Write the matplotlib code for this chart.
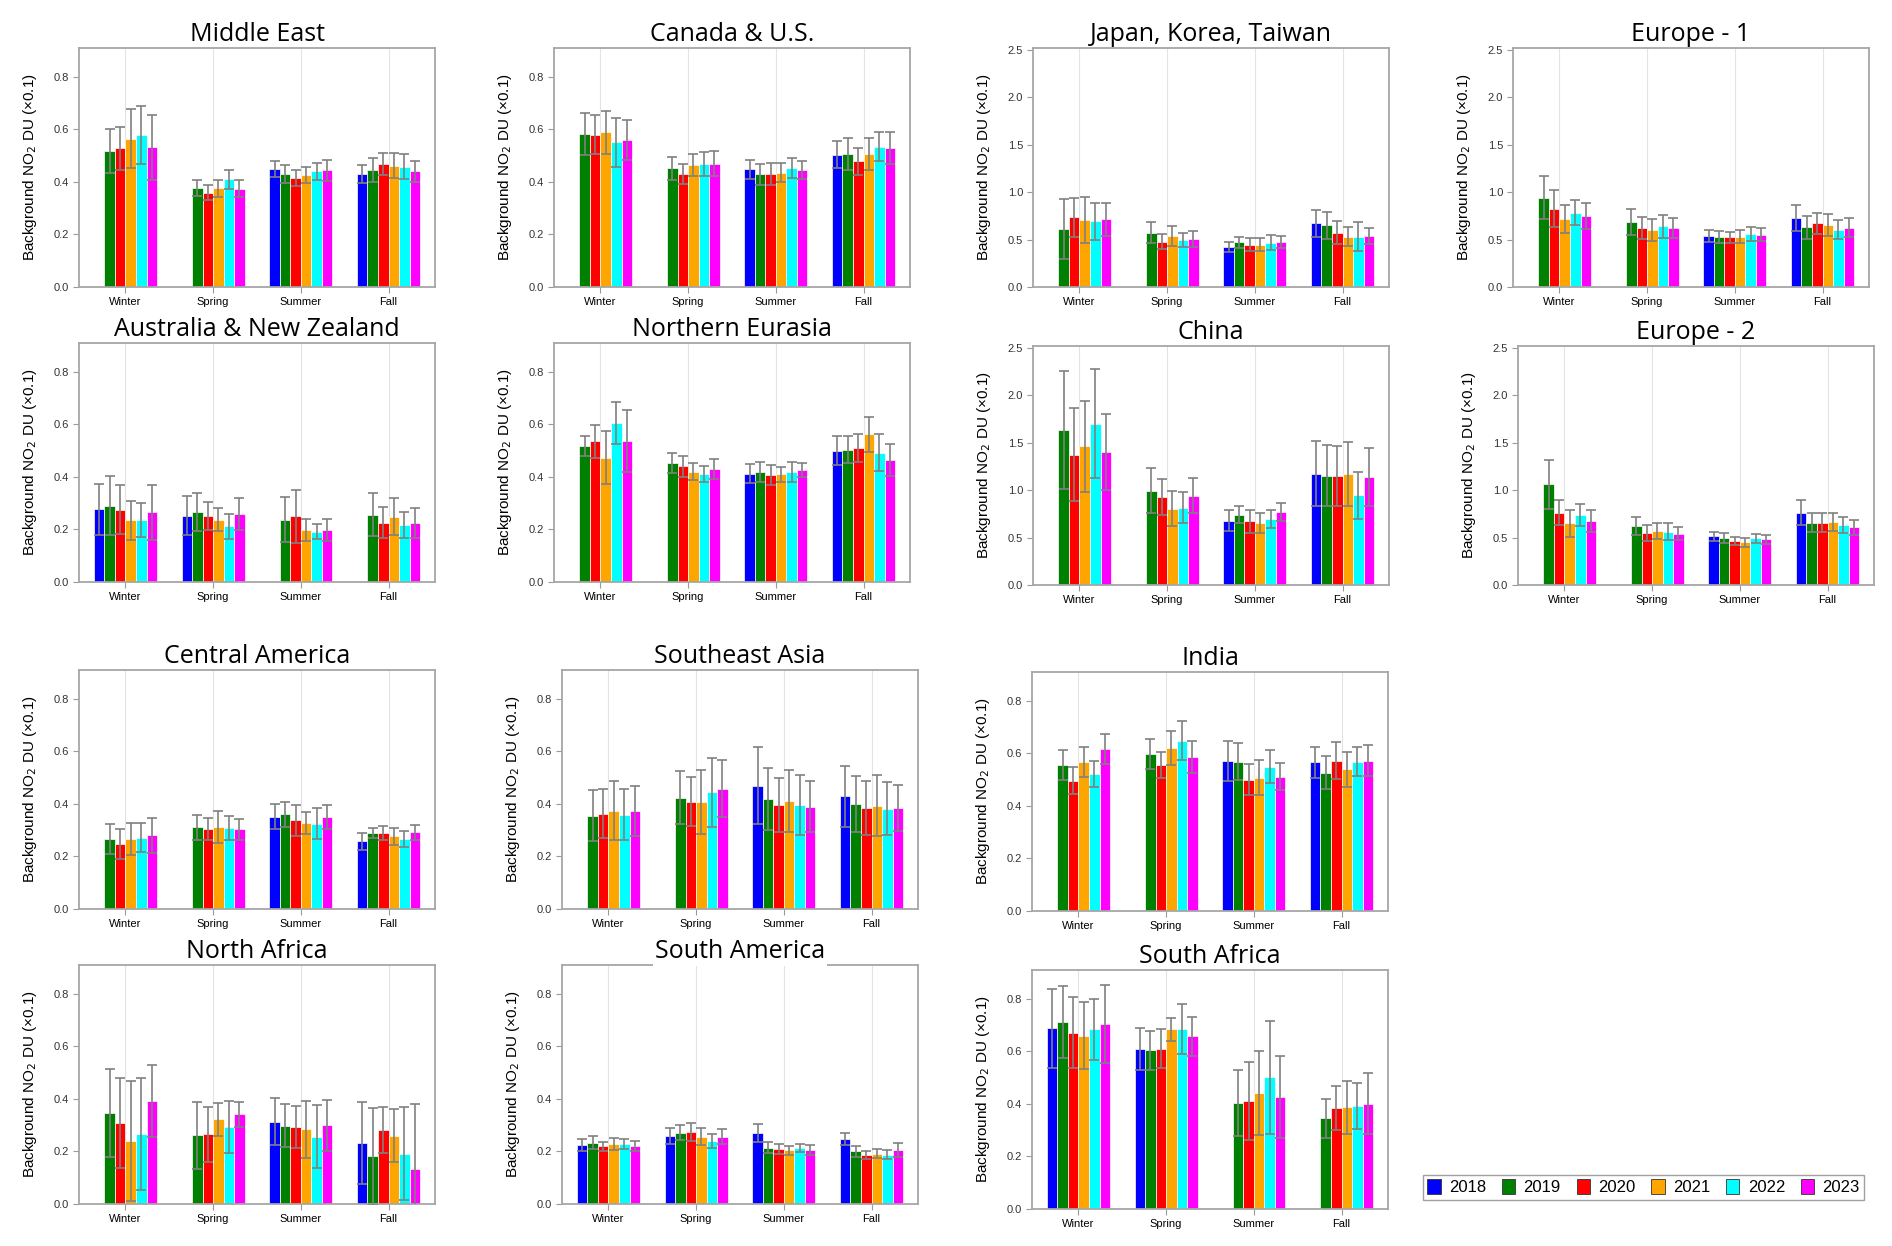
import numpy as np
import matplotlib
matplotlib.use("Agg")
from matplotlib import pyplot as plt
from matplotlib.patches import Patch

nan = np.nan

seasons = ["Winter", "Spring", "Summer", "Fall"]
years = ["2018", "2019", "2020", "2021", "2022", "2023"]
colors = ["#0000ff", "#008000", "#ff0000", "#ffa500", "#00ffff", "#ff00ff"]

# mean values per season, one entry per year 2018..2023 (nan = no data)
middle_east = [[nan, 0.519, 0.528, 0.565, 0.579, 0.532],
               [nan, 0.376, 0.359, 0.376, 0.410, 0.375],
               [0.448, 0.430, 0.415, 0.427, 0.440, 0.445],
               [0.429, 0.446, 0.467, 0.462, 0.458, 0.440]]
middle_east_err = [[nan, 0.084, 0.083, 0.112, 0.109, 0.123],
                   [nan, 0.030, 0.028, 0.033, 0.036, 0.033],
                   [0.030, 0.034, 0.029, 0.030, 0.033, 0.040],
                   [0.034, 0.045, 0.042, 0.047, 0.048, 0.041]]

canada_us = [[nan, 0.584, 0.580, 0.589, 0.551, 0.560],
             [nan, 0.452, 0.429, 0.464, 0.469, 0.469],
             [0.448, 0.429, 0.432, 0.435, 0.452, 0.444],
             [0.504, 0.507, 0.478, 0.507, 0.534, 0.529]]
canada_us_err = [[nan, 0.080, 0.075, 0.081, 0.094, 0.077],
                 [nan, 0.044, 0.038, 0.041, 0.046, 0.047],
                 [0.037, 0.039, 0.042, 0.036, 0.038, 0.034],
                 [0.052, 0.060, 0.051, 0.062, 0.056, 0.062]]

japan_korea = [[nan, 0.613, 0.735, 0.706, 0.692, 0.713],
               [nan, 0.574, 0.478, 0.535, 0.499, 0.506],
               [0.424, 0.471, 0.446, 0.446, 0.467, 0.474],
               [0.670, 0.649, 0.574, 0.531, 0.531, 0.535]]
japan_korea_err = [[nan, 0.314, 0.203, 0.239, 0.192, 0.171],
                   [nan, 0.107, 0.082, 0.107, 0.075, 0.082],
                   [0.050, 0.060, 0.068, 0.068, 0.079, 0.068],
                   [0.143, 0.143, 0.121, 0.097, 0.150, 0.082]]

europe_1 = [[nan, 0.942, 0.824, 0.713, 0.785, 0.749],
            [nan, 0.685, 0.621, 0.599, 0.638, 0.621],
            [0.535, 0.524, 0.524, 0.531, 0.556, 0.549],
            [0.728, 0.631, 0.670, 0.656, 0.606, 0.624]]
europe_1_err = [[nan, 0.224, 0.196, 0.147, 0.135, 0.135],
                [nan, 0.139, 0.114, 0.114, 0.125, 0.103],
                [0.064, 0.064, 0.061, 0.065, 0.072, 0.068],
                [0.135, 0.122, 0.115, 0.114, 0.104, 0.100]]

australia_nz = [[0.277, 0.291, 0.275, 0.235, 0.237, 0.265],
                [0.253, 0.266, 0.251, 0.237, 0.212, 0.258],
                [nan, 0.237, 0.251, 0.198, 0.191, 0.197],
                [nan, 0.257, 0.226, 0.249, 0.217, 0.224]]
australia_nz_err = [[0.098, 0.112, 0.093, 0.075, 0.064, 0.104],
                    [0.075, 0.071, 0.053, 0.044, 0.047, 0.060],
                    [nan, 0.085, 0.101, 0.041, 0.029, 0.042],
                    [nan, 0.080, 0.059, 0.071, 0.051, 0.058]]

northern_eurasia = [[nan, 0.518, 0.535, 0.474, 0.607, 0.537],
                    [nan, 0.453, 0.440, 0.420, 0.411, 0.431],
                    [0.413, 0.418, 0.407, 0.410, 0.418, 0.425],
                    [0.500, 0.504, 0.510, 0.562, 0.493, 0.464]]
northern_eurasia_err = [[nan, 0.037, 0.062, 0.100, 0.080, 0.118],
                        [nan, 0.039, 0.039, 0.032, 0.029, 0.038],
                        [0.037, 0.039, 0.037, 0.029, 0.039, 0.027],
                        [0.056, 0.052, 0.053, 0.068, 0.069, 0.060]]

china = [[nan, 1.632, 1.375, 1.464, 1.700, 1.404],
         [nan, 0.993, 0.929, 0.804, 0.814, 0.943],
         [0.679, 0.743, 0.671, 0.654, 0.700, 0.771],
         [1.175, 1.154, 1.146, 1.168, 0.946, 1.139]]
china_err = [[nan, 0.620, 0.490, 0.480, 0.575, 0.400],
             [nan, 0.236, 0.190, 0.185, 0.165, 0.180],
             [0.107, 0.093, 0.122, 0.107, 0.096, 0.093],
             [0.340, 0.325, 0.315, 0.335, 0.247, 0.310]]

europe_2 = [[nan, 1.061, 0.761, 0.650, 0.739, 0.675],
            [nan, 0.625, 0.550, 0.568, 0.564, 0.543],
            [0.514, 0.493, 0.464, 0.450, 0.493, 0.482],
            [0.761, 0.657, 0.657, 0.668, 0.636, 0.607]]
europe_2_err = [[nan, 0.257, 0.132, 0.143, 0.115, 0.118],
                [nan, 0.093, 0.082, 0.086, 0.090, 0.068],
                [0.050, 0.053, 0.043, 0.046, 0.046, 0.050],
                [0.132, 0.100, 0.097, 0.096, 0.085, 0.082]]

central_america = [[nan, 0.267, 0.249, 0.266, 0.272, 0.280],
                   [nan, 0.311, 0.305, 0.311, 0.308, 0.303],
                   [0.352, 0.361, 0.337, 0.328, 0.325, 0.349],
                   [0.258, 0.289, 0.290, 0.277, 0.266, 0.292]]
central_america_err = [[nan, 0.056, 0.057, 0.062, 0.056, 0.067],
                       [nan, 0.048, 0.043, 0.061, 0.045, 0.039],
                       [0.048, 0.047, 0.060, 0.043, 0.060, 0.046],
                       [0.033, 0.020, 0.026, 0.032, 0.031, 0.028]]

southeast_asia = [[nan, 0.356, 0.363, 0.375, 0.359, 0.372],
                  [nan, 0.424, 0.408, 0.408, 0.444, 0.458],
                  [0.470, 0.418, 0.396, 0.410, 0.396, 0.389],
                  [0.429, 0.399, 0.384, 0.394, 0.382, 0.384]]
southeast_asia_err = [[nan, 0.098, 0.094, 0.111, 0.098, 0.095],
                      [nan, 0.100, 0.093, 0.122, 0.132, 0.109],
                      [0.148, 0.117, 0.104, 0.118, 0.113, 0.097],
                      [0.115, 0.106, 0.103, 0.116, 0.102, 0.088]]

india = [[nan, 0.557, 0.496, 0.569, 0.522, 0.616],
         [nan, 0.597, 0.557, 0.621, 0.649, 0.585],
         [0.570, 0.569, 0.500, 0.507, 0.549, 0.512],
         [0.566, 0.527, 0.573, 0.540, 0.569, 0.573]]
india_err = [[nan, 0.057, 0.052, 0.057, 0.048, 0.057],
             [nan, 0.058, 0.049, 0.064, 0.073, 0.061],
             [0.076, 0.070, 0.058, 0.067, 0.063, 0.051],
             [0.060, 0.064, 0.069, 0.066, 0.054, 0.058]]

north_africa = [[nan, 0.347, 0.309, 0.240, 0.268, 0.394],
                [nan, 0.262, 0.265, 0.322, 0.294, 0.341],
                [0.313, 0.298, 0.294, 0.284, 0.257, 0.299],
                [0.233, 0.181, 0.282, 0.260, 0.192, 0.135]]
north_africa_err = [[nan, 0.167, 0.172, 0.228, 0.213, 0.137],
                    [nan, 0.128, 0.104, 0.062, 0.098, 0.046],
                    [0.090, 0.082, 0.079, 0.109, 0.121, 0.098],
                    [0.156, 0.183, 0.088, 0.101, 0.177, 0.244]]

south_america = [[0.224, 0.234, 0.220, 0.229, 0.228, 0.220],
                 [0.260, 0.271, 0.274, 0.257, 0.240, 0.257],
                 [0.271, 0.214, 0.210, 0.204, 0.214, 0.205],
                 [0.248, 0.200, 0.187, 0.192, 0.188, 0.205]]
south_america_err = [[0.023, 0.026, 0.017, 0.023, 0.019, 0.018],
                     [0.030, 0.029, 0.034, 0.032, 0.025, 0.029],
                     [0.034, 0.021, 0.018, 0.017, 0.016, 0.019],
                     [0.023, 0.021, 0.015, 0.018, 0.017, 0.027]]

south_africa = [[0.688, 0.712, 0.672, 0.660, 0.685, 0.703],
                [0.610, 0.604, 0.610, 0.684, 0.685, 0.657],
                [nan, 0.403, 0.412, 0.442, 0.501, 0.427],
                [nan, 0.345, 0.384, 0.387, 0.393, 0.400]]
south_africa_err = [[0.151, 0.136, 0.135, 0.127, 0.116, 0.148],
                    [0.081, 0.073, 0.075, 0.045, 0.094, 0.075],
                    [nan, 0.125, 0.149, 0.160, 0.215, 0.155],
                    [nan, 0.075, 0.083, 0.101, 0.087, 0.116]]

# (title, means, errors, ymax, left px, top px)
W, H = 1892, 1246
panels = [
    ("Middle East", middle_east, middle_east_err, 0.91, 79, 48),
    ("Canada & U.S.", canada_us, canada_us_err, 0.91, 554, 48),
    ("Japan, Korea, Taiwan", japan_korea, japan_korea_err, 2.52, 1033, 48),
    ("Europe - 1", europe_1, europe_1_err, 2.52, 1513, 48),
    ("Australia & New Zealand", australia_nz, australia_nz_err, 0.91, 79, 343),
    ("Northern Eurasia", northern_eurasia, northern_eurasia_err, 0.91, 554, 343),
    ("China", china, china_err, 2.52, 1033, 346),
    ("Europe - 2", europe_2, europe_2_err, 2.52, 1518, 346),
    ("Central America", central_america, central_america_err, 0.91, 79, 670),
    ("Southeast Asia", southeast_asia, southeast_asia_err, 0.91, 562, 670),
    ("India", india, india_err, 0.91, 1032, 672),
    ("North Africa", north_africa, north_africa_err, 0.91, 79, 965),
    ("South America", south_america, south_america_err, 0.91, 562, 965),
    ("South Africa", south_africa, south_africa_err, 0.91, 1032, 970),
]

fig = plt.figure(figsize=(W / 100, H / 100), dpi=100)

bar_w = 0.12
x = np.arange(len(seasons))

for title, means, errs, ymax, left, top in panels:
    aw, ah = 356, 239
    ax = fig.add_axes([left / W, 1 - (top + ah) / H, aw / W, ah / H])
    means = np.array(means)
    errs = np.array(errs)
    for i in range(len(years)):
        xpos = x + (i - 2.5) * bar_w
        ax.bar(xpos, means[:, i], width=bar_w, color=colors[i],
               edgecolor="white", linewidth=0.5, zorder=2)
        ax.errorbar(xpos, means[:, i], yerr=errs[:, i], fmt="none",
                    ecolor="#808080", elinewidth=1.2, capsize=3.5,
                    capthick=1.2, zorder=3)
    ax.set_xlim(-0.53, 3.53)
    ax.set_ylim(0, ymax)
    if ymax > 1:
        ax.set_yticks([0, 0.5, 1.0, 1.5, 2.0, 2.5])
    else:
        ax.set_yticks([0, 0.2, 0.4, 0.6, 0.8])
    ax.yaxis.set_major_formatter(matplotlib.ticker.FormatStrFormatter("%.1f"))
    ax.set_xticks(x)
    ax.set_xticklabels(seasons, fontsize=8, family="Liberation Sans")
    for lab in ax.get_yticklabels():
        lab.set_fontsize(8)
        lab.set_family("Liberation Sans")
        lab.set_color("#333333")
    ax.tick_params(axis="both", direction="out", length=4, width=0.8,
                   color="#999999", pad=3)
    ax.grid(axis="x", color="#e3e3e3", linewidth=0.8, zorder=0)
    ax.set_axisbelow(True)
    for sp in ax.spines.values():
        sp.set_color("#a6a6a6")
        sp.set_linewidth(1.3)
    ax.set_ylabel("Background NO$_2$ DU (×0.1)", fontsize=11,
                  family="Liberation Sans", labelpad=11)
    t = ax.set_title(title, fontsize=18, family="Open Sans", pad=5)
    if title == "South America":
        t.set_bbox(dict(facecolor="white", edgecolor="none", pad=1))

handles = [Patch(facecolor=c, edgecolor="#333333", linewidth=0.6) for c in colors]
fig.legend(handles, years, loc="upper right",
           bbox_to_anchor=(1864 / W, 1 - 1175 / H), ncol=6,
           frameon=True, fancybox=False, edgecolor="#888888",
           handlelength=0.8, handleheight=1.0, handletextpad=0.5,
           columnspacing=0.95, borderpad=0.25, borderaxespad=0,
           prop={"family": "Liberation Sans", "size": 12})

fig.savefig("out.png", dpi=100)
